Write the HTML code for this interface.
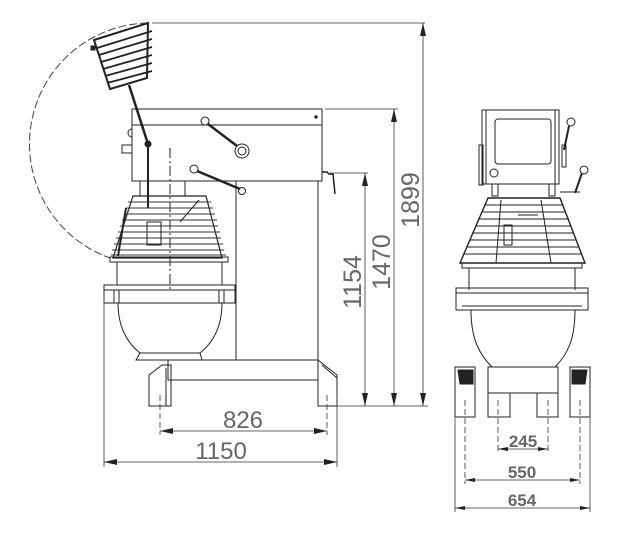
<!DOCTYPE html>
<html><head><meta charset="utf-8"><style>
html,body{margin:0;padding:0;background:#fff}
svg{display:block}
.t{font-family:"Liberation Sans",sans-serif;fill:#666}
</style></head><body>
<svg width="630" height="533" viewBox="0 0 630 533" xmlns="http://www.w3.org/2000/svg">
<g fill="none" stroke="#222" stroke-width="1">
<path d="M148,23 A121,121 0 0 0 110,258" stroke-dasharray="8,3" stroke="#444"/>
<polygon points="94,40 148,23 147,78 110,89" stroke-width="2"/>
<g stroke-width="1.8">
<line x1="97" y1="48" x2="152" y2="31"/><line x1="99" y1="55" x2="152" y2="39"/>
<line x1="101" y1="62" x2="152" y2="47"/><line x1="103" y1="69" x2="152" y2="55"/>
<line x1="105" y1="76" x2="152" y2="63"/><line x1="107" y1="83" x2="152" y2="71"/>
</g>
<rect x="91" y="46" width="4" height="4" fill="#222"/>
<line x1="129" y1="85" x2="148" y2="144" stroke-width="2.5"/>
<circle cx="148" cy="144" r="3" fill="#222"/>
<line x1="148" y1="144" x2="148" y2="208" stroke-width="2"/>
<rect x="132" y="109" width="190" height="72"/>
<line x1="132" y1="125" x2="322" y2="125"/>
<circle cx="316" cy="117" r="1.2" fill="#222"/>
<rect x="122" y="145" width="10" height="8"/>
<path d="M132,129 a4,4 0 0 0 0,8"/>
<circle cx="205" cy="121" r="4"/>
<line x1="208" y1="124" x2="237" y2="146" stroke-width="2.5"/>
<circle cx="242" cy="151" r="7"/><circle cx="242" cy="151" r="4"/>
<circle cx="194" cy="169" r="4"/>
<line x1="197" y1="171" x2="240" y2="189" stroke-width="2.5"/>
<circle cx="242" cy="191" r="3.5"/>
<path d="M322,172 h5 l2,2 l4,0 l2,20" stroke-width="1.5"/>
<line x1="170" y1="148" x2="170" y2="290" stroke-dasharray="10,3,2,3"/>
<line x1="236" y1="181" x2="236" y2="360"/>
<line x1="318" y1="181" x2="318" y2="360"/>
<rect x="140" y="181" width="45" height="15"/>
<polygon points="133,196 206,196 222,258 113,258" stroke-width="1.2"/>
<g stroke="#333">
<line x1="128" y1="202" x2="211" y2="202"/><line x1="126" y1="208" x2="213" y2="208"/>
<line x1="124" y1="214" x2="215" y2="214"/><line x1="122" y1="220" x2="217" y2="220"/>
<line x1="120" y1="226" x2="218" y2="226"/><line x1="118" y1="232" x2="220" y2="232"/>
<line x1="116" y1="238" x2="221" y2="238"/><line x1="114" y1="244" x2="223" y2="244"/>
<line x1="112" y1="250" x2="224" y2="250"/><line x1="111" y1="255" x2="226" y2="255"/>
</g>
<line x1="126" y1="208" x2="118" y2="256" stroke-width="2"/>
<line x1="199" y1="200" x2="180" y2="222"/>
<rect x="147" y="222" width="14" height="23"/>
<rect x="110" y="257" width="118" height="5"/>
<line x1="117" y1="262" x2="117" y2="285"/><line x1="222" y1="262" x2="222" y2="285"/>
<line x1="117" y1="262" x2="222" y2="262"/>
<rect x="104" y="285" width="131" height="18"/>
<line x1="104" y1="290" x2="235" y2="290"/>
<rect x="114" y="290" width="5" height="13"/><rect x="219" y="290" width="5" height="13"/>
<path d="M118,303 C118,330 130,345 140,353 L200,353 C210,345 222,330 222,303"/>
<polygon points="140,353 200,353 202,360 136,360"/>
<rect x="168" y="360" width="150" height="20"/>
<path d="M149,406 V375 L162,365 H171 V406 Z"/>
<line x1="166" y1="368" x2="166" y2="406"/>
<path d="M318,360 L337,375 V406 H318 Z"/>
<line x1="322" y1="365" x2="337" y2="378"/>
<g stroke="#333" stroke-width="0.8">
<line x1="152" y1="23" x2="425" y2="23"/>
<line x1="325" y1="109" x2="398" y2="109"/>
<line x1="330" y1="173" x2="368" y2="173"/>
<line x1="337" y1="406" x2="428" y2="406"/>
<line x1="423" y1="23" x2="423" y2="406"/>
<line x1="394" y1="109" x2="394" y2="406"/>
<line x1="365" y1="173" x2="365" y2="406"/>
<line x1="104" y1="292" x2="104" y2="467"/>
<line x1="337" y1="395" x2="337" y2="467"/>
<line x1="160" y1="395" x2="160" y2="435" stroke-dasharray="6,3"/>
<line x1="327" y1="395" x2="327" y2="435" stroke-dasharray="6,3"/>
<line x1="160" y1="431" x2="327" y2="431"/>
<line x1="104" y1="462" x2="337" y2="462"/>
</g>
<g fill="#222" stroke="none">
<polygon points="423,23 420,36 426,36"/><polygon points="423,406 420,393 426,393"/>
<polygon points="394,109 391,122 397,122"/><polygon points="394,406 391,393 397,393"/>
<polygon points="365,173 362,186 368,186"/><polygon points="365,406 362,393 368,393"/>
<polygon points="160,431 173,428 173,434"/><polygon points="327,431 314,428 314,434"/>
<polygon points="104,462 117,459 117,465"/><polygon points="337,462 324,459 324,465"/>
</g>
<rect x="482" y="110" width="77" height="74"/>
<rect x="495" y="119" width="56" height="45" rx="3"/>
<line x1="486" y1="110" x2="486" y2="184"/><line x1="555" y1="110" x2="555" y2="184"/>
<circle cx="494" cy="173" r="4"/>
<rect x="479" y="145" width="4" height="40"/>
<rect x="562" y="145" width="4" height="22"/>
<circle cx="571" cy="122" r="4"/><line x1="569" y1="126" x2="564" y2="150" stroke-width="2"/>
<circle cx="584" cy="170" r="4"/><line x1="582" y1="173" x2="575" y2="193" stroke-width="2"/>
<line x1="560" y1="192" x2="580" y2="192"/>
<rect x="492" y="184" width="6" height="12"/><rect x="549" y="184" width="6" height="12"/>
<polygon points="488,198 560,198 585,263 460,263" stroke-width="1.4"/>
<g stroke="#222">
<line x1="485" y1="205" x2="563" y2="205"/><line x1="482" y1="212" x2="566" y2="212"/>
<line x1="479" y1="219" x2="569" y2="219"/><line x1="476" y1="226" x2="571" y2="226"/>
<line x1="473" y1="233" x2="574" y2="233"/><line x1="470" y1="240" x2="576" y2="240"/>
<line x1="467" y1="247" x2="579" y2="247"/><line x1="464" y1="254" x2="582" y2="254"/>
<line x1="501" y1="200" x2="496" y2="263"/><line x1="541" y1="200" x2="551" y2="263"/>
<line x1="518" y1="215" x2="538" y2="215"/><rect x="504" y="225" width="8" height="20"/>
</g>
<rect x="462" y="263" width="120" height="5"/>
<line x1="469" y1="268" x2="469" y2="290"/><line x1="575" y1="268" x2="575" y2="290"/>
<rect x="456" y="288" width="132" height="22"/>
<line x1="456" y1="293" x2="588" y2="293"/><line x1="462" y1="306" x2="582" y2="306"/>
<path d="M471,310 C471,340 480,355 492,367 L555,367 C567,355 575,340 575,310"/>
<rect x="488" y="367" width="70" height="26"/>
<rect x="455" y="367" width="20" height="50"/><polygon points="458,370 473,370 473,384 460,384" fill="#222"/>
<rect x="570" y="367" width="20" height="50"/><polygon points="572,370 587,370 585,384 572,384" fill="#222"/>
<rect x="488" y="393" width="22" height="24"/><rect x="537" y="393" width="21" height="24"/>
<g stroke="#333" stroke-width="0.8">
<line x1="455" y1="418" x2="455" y2="512"/><line x1="590" y1="418" x2="590" y2="512"/>
<line x1="465" y1="400" x2="465" y2="484" stroke-dasharray="6,3"/>
<line x1="580" y1="400" x2="580" y2="484" stroke-dasharray="6,3"/>
<line x1="498" y1="400" x2="498" y2="452" stroke-dasharray="6,3"/>
<line x1="548" y1="400" x2="548" y2="452" stroke-dasharray="6,3"/>
<line x1="498" y1="449" x2="548" y2="449"/>
<line x1="465" y1="480" x2="580" y2="480"/>
<line x1="455" y1="508" x2="590" y2="508"/>
</g>
<g fill="#222" stroke="none">
<polygon points="498,449 508,447 508,451"/><polygon points="548,449 538,447 538,451"/>
<polygon points="465,480 475,478 475,482"/><polygon points="580,480 570,478 570,482"/>
<polygon points="455,508 465,506 465,510"/><polygon points="590,508 580,506 580,510"/>
</g>
</g>
<text class="t" x="243" y="428" font-size="24" text-anchor="middle">826</text>
<text class="t" x="221" y="459" font-size="24" text-anchor="middle">1150</text>
<text class="t" font-size="25" text-anchor="middle" transform="translate(419,200) rotate(-90)">1899</text>
<text class="t" font-size="25" text-anchor="middle" transform="translate(390,262) rotate(-90)">1470</text>
<text class="t" font-size="25" text-anchor="middle" transform="translate(361,282) rotate(-90)">1154</text>
<text class="t" x="523" y="447" font-size="17" font-weight="bold" text-anchor="middle">245</text>
<text class="t" x="522" y="478" font-size="17" font-weight="bold" text-anchor="middle">550</text>
<text class="t" x="522" y="506" font-size="17" font-weight="bold" text-anchor="middle">654</text>
</svg>
</body></html>
